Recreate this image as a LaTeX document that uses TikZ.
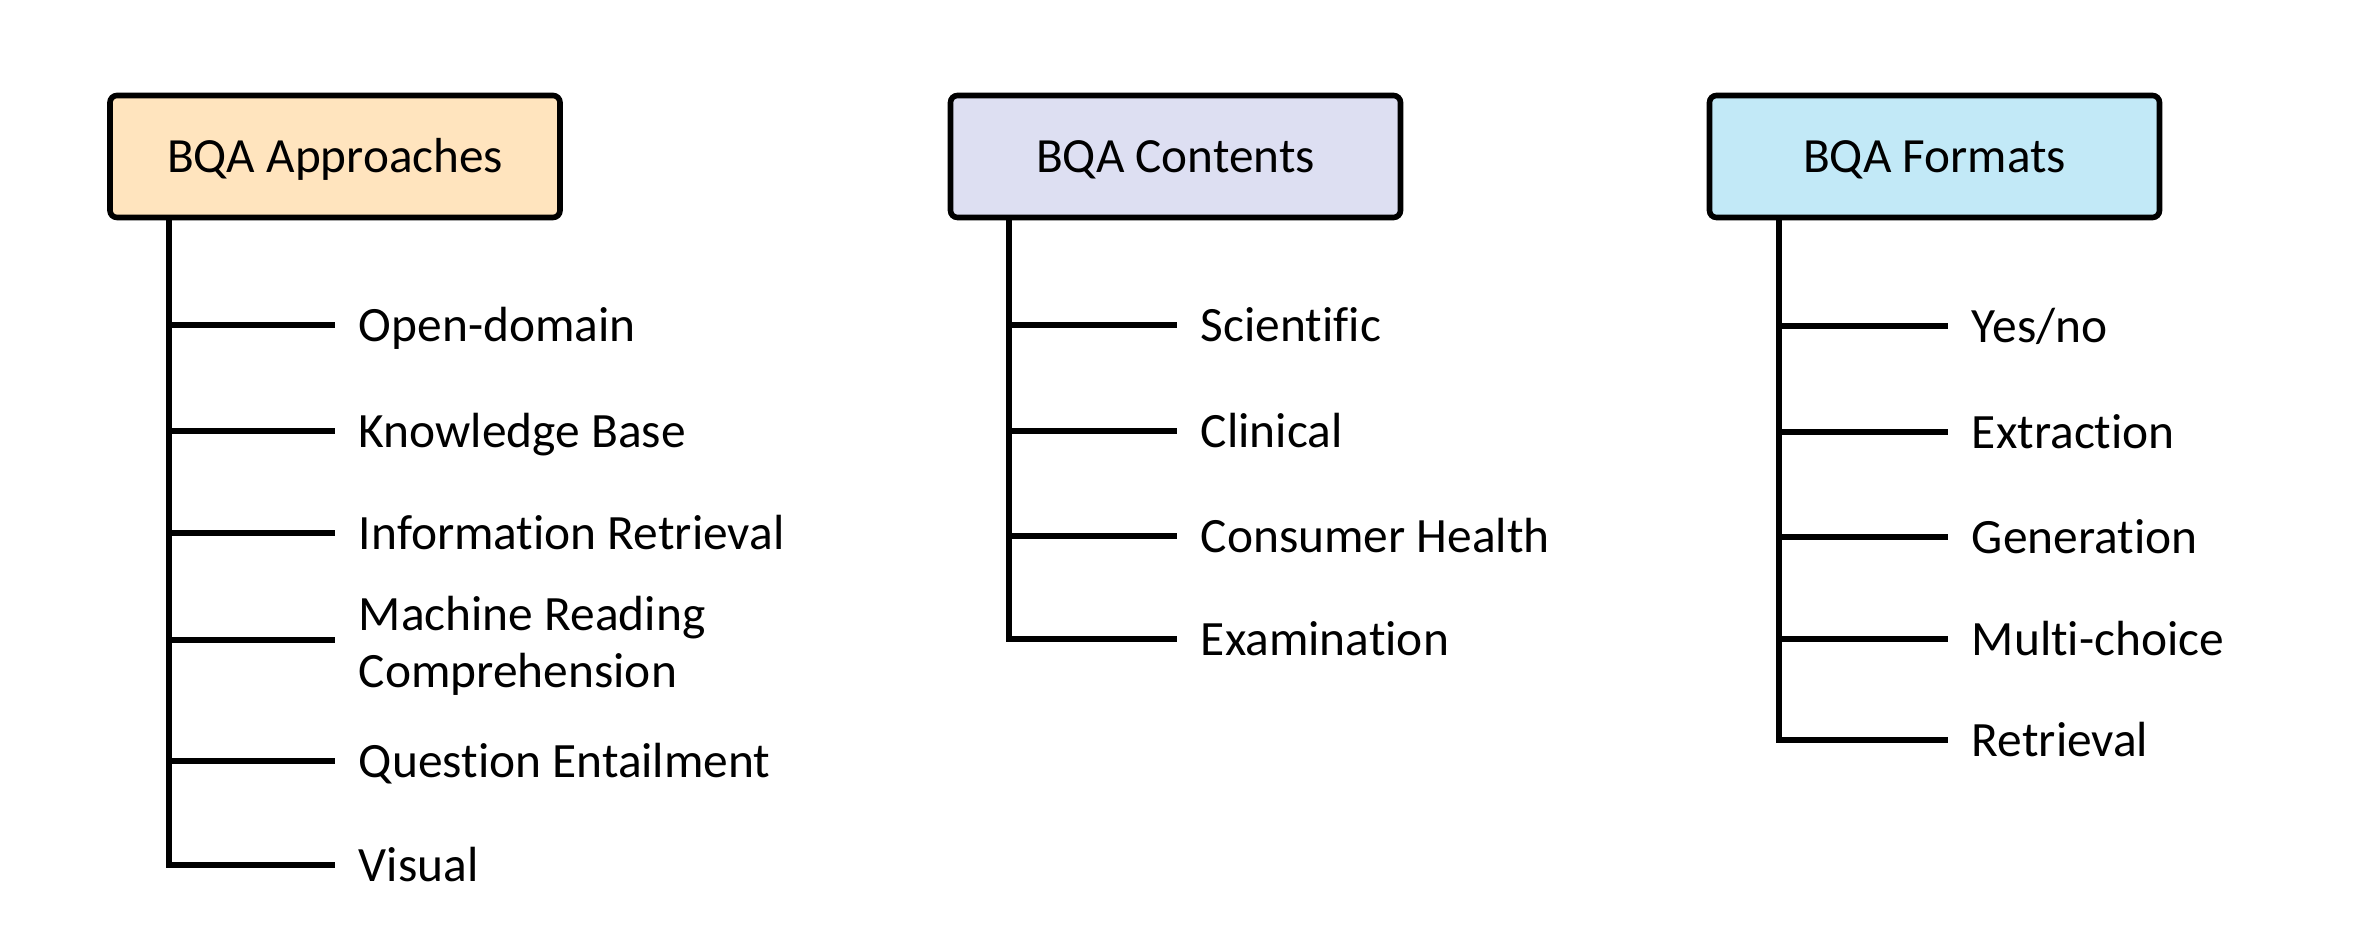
\documentclass[tikz,border=0pt]{standalone}
\usepackage{fontspec}
\setmainfont{Carlito}[Ligatures={NoCommon}]
\definecolor{apfill}{RGB}{255,228,190}
\definecolor{cofill}{RGB}{221,223,242}
\definecolor{fofill}{RGB}{194,233,247}
\begin{document}
\begin{tikzpicture}[x=0.5pt,y=-0.5pt,
  hdr/.style={draw=black, line width=2.8pt, rounded corners=3.5pt,
    minimum width=225pt, minimum height=61pt, inner sep=0pt,
    text height=20.6pt, text depth=5pt,
    font=\fontsize{24.6}{28.5}\selectfont},
  lbl/.style={anchor=west, inner xsep=11.75pt, inner ysep=0pt,
    text height=21.8pt, text depth=4.8pt,
    font=\fontsize{24.7}{28.5}\selectfont},
  conn/.style={line width=3.2pt}]
\useasboundingbox (0,0) rectangle (2362,945);

% category headers
\node[hdr, fill=apfill] (ap) at (335,156.5) {BQA Approaches};
\node[hdr, fill=cofill] (co) at (1175.5,156.5) {BQA Contents};
\node[hdr, fill=fofill] (fo) at (1934.5,156.5) {BQA Formats};

% approaches
\coordinate (ta) at (169,865);
\node[lbl] (a1) at (335,325) {Open-domain};
\node[lbl] (a2) at (335,431) {Knowledge Base};
\node[lbl] (a3) at (335,533) {Information Retrieval};
\node[lbl, text depth=30.8pt] (a4) at (335,640)
  {\vtop{\hbox{Machine Reading}\hbox{Comprehension}}};
\node[lbl] (a5) at (335,761) {Question Entailment};
\node[lbl] (a6) at (335,865) {Visual};
\draw[conn] (ap.south -| ta) -- (ta) -- (a6.west);
\foreach \n in {a1,a2,a3,a4,a5}
  \draw[conn] (\n.west -| ta) -- (\n.west);

% contents
\coordinate (tc) at (1009,639);
\node[lbl] (c1) at (1177,325) {Scientific};
\node[lbl] (c2) at (1177,431) {Clinical};
\node[lbl] (c3) at (1177,536) {Consumer Health};
\node[lbl] (c4) at (1177,639) {Examination};
\draw[conn] (co.south -| tc) -- (tc) -- (c4.west);
\foreach \n in {c1,c2,c3}
  \draw[conn] (\n.west -| tc) -- (\n.west);

% formats
\coordinate (tf) at (1779,740);
\node[lbl] (f1) at (1948,326) {Yes/no};
\node[lbl] (f2) at (1948,432) {Extraction};
\node[lbl] (f3) at (1948,537) {Generation};
\node[lbl] (f4) at (1948,639) {Multi-choice};
\node[lbl] (f5) at (1948,740) {Retrieval};
\draw[conn] (fo.south -| tf) -- (tf) -- (f5.west);
\foreach \n in {f1,f2,f3,f4}
  \draw[conn] (\n.west -| tf) -- (\n.west);
\end{tikzpicture}
\end{document}
